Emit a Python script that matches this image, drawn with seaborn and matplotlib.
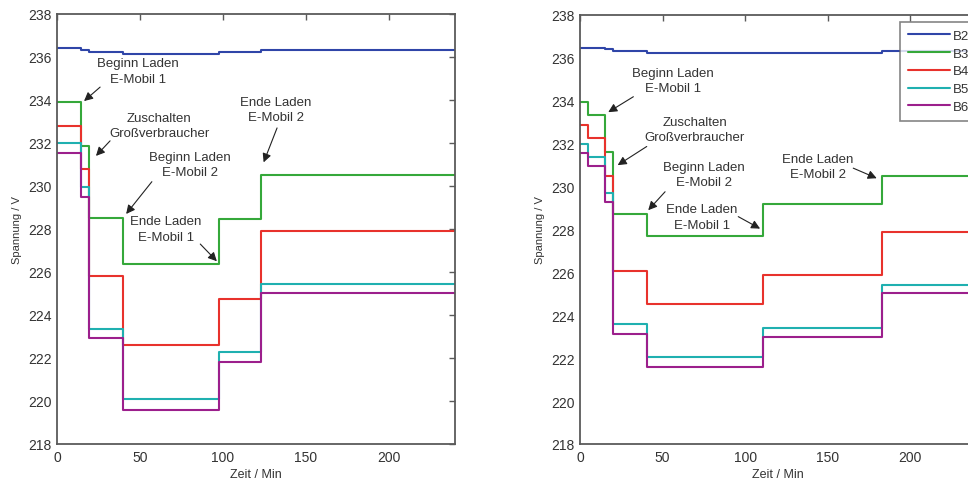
import numpy as np
import pandas as pd
import matplotlib
matplotlib.use("Agg")
import matplotlib.pyplot as plt
import seaborn as sns

# ---------------- data ----------------
series_names = ["B2", "B3", "B4", "B5", "B6"]

# left chart: step change times (min)
t_left = [0, 14.5, 19.5, 39.7, 97.8, 122.8, 240]
B2_left = [236.44, 236.33, 236.24, 236.16, 236.25, 236.31, 236.31]
B3_left = [233.92, 231.85, 228.50, 226.35, 228.45, 230.50, 230.50]
B4_left = [232.80, 230.80, 225.80, 222.60, 224.75, 227.90, 227.90]
B5_left = [232.00, 229.95, 223.37, 220.07, 222.27, 225.42, 225.42]
B6_left = [231.55, 229.50, 222.92, 219.60, 221.82, 225.02, 225.02]

# right chart
t_right = [0, 4.6, 15.1, 20.2, 40.5, 110.5, 182.6, 240]
B2_right = [236.46, 236.46, 236.40, 236.30, 236.24, 236.22, 236.31, 236.31]
B3_right = [233.95, 233.35, 231.60, 228.73, 227.72, 229.20, 230.50, 230.50]
B4_right = [232.85, 232.28, 230.50, 226.05, 224.55, 225.87, 227.87, 227.87]
B5_right = [232.00, 231.40, 229.68, 223.58, 222.05, 223.40, 225.42, 225.42]
B6_right = [231.58, 230.97, 229.28, 223.15, 221.60, 223.00, 225.03, 225.03]

x_ticks = [0, 50, 100, 150, 200]
y_ticks = [218, 220, 222, 224, 226, 228, 230, 232, 234, 236, 238]
x_label = "Zeit / Min"
y_label = "Spannung / V"

# annotations: (text, text position, arrow start, arrow tip)
ann_left = [
    ("Beginn Laden\nE-Mobil 1", (48.9, 235.35), (26.0, 234.6), (16.3, 233.95)),
    ("Zuschalten\nGroßverbraucher", (61.6, 232.8), (32.0, 232.1), (23.5, 231.4)),
    ("Beginn Laden\nE-Mobil 2", (80.3, 231.0), (57.2, 230.2), (41.7, 228.7)),
    ("Ende Laden\nE-Mobil 1", (65.5, 228.0), (86.4, 227.3), (96.4, 226.5)),
    ("Ende Laden\nE-Mobil 2", (132.0, 233.55), (132.7, 232.7), (124.6, 231.1)),
]
ann_right = [
    ("Beginn Laden\nE-Mobil 1", (56.5, 234.94), (32.3, 234.19), (17.1, 233.47)),
    ("Zuschalten\nGroßverbraucher", (69.6, 232.68), (40.4, 231.87), (22.8, 231.0)),
    ("Beginn Laden\nE-Mobil 2", (75.0, 230.55), (51.5, 229.76), (41.3, 228.9)),
    ("Ende Laden\nE-Mobil 1", (73.8, 228.58), (95.8, 228.6), (109.0, 228.04)),
    ("Ende Laden\nE-Mobil 2", (143.8, 230.94), (165.4, 230.86), (179.6, 230.39)),
]

palette = {"B2": "#2f45a8", "B3": "#35a83a", "B4": "#e8322c", "B5": "#1fb0b0", "B6": "#9c1f8c"}


def long_frame(t, series):
    rows = []
    for name, vals in zip(series_names, series):
        for ti, vi in zip(t, vals):
            rows.append({"Zeit": ti, "Spannung": vi, "Bus": name})
    return pd.DataFrame(rows)


df_left = long_frame(t_left, [B2_left, B3_left, B4_left, B5_left, B6_left])
df_right = long_frame(t_right, [B2_right, B3_right, B4_right, B5_right, B6_right])

# ---------------- style ----------------
sns.set_style("white")
plt.rcParams["font.family"] = ["Liberation Sans Narrow", "Liberation Sans", "DejaVu Sans"]

fig = plt.figure(figsize=(9.68, 4.81), dpi=100)
ax1 = fig.add_axes([57 / 968, 1 - 445 / 481, 398 / 968, 430 / 481])
ax2 = fig.add_axes([580 / 968, 1 - 445 / 481, 396.5 / 968, 429 / 481])

text_col = "#333333"
spine_col = "#5a5a5a"

for ax, df, anns in [(ax1, df_left, ann_left), (ax2, df_right, ann_right)]:
    sns.lineplot(data=df, x="Zeit", y="Spannung", hue="Bus", palette=palette,
                 estimator=None, sort=True, drawstyle="steps-post",
                 linewidth=1.5, legend=(ax is ax2), ax=ax)
    ax.set_xlim(0, 240)
    ax.set_ylim(218, 238)
    ax.set_xticks(x_ticks)
    ax.set_yticks(y_ticks)
    ax.set_xlabel(x_label, fontsize=9, color=text_col, labelpad=3)
    ax.set_ylabel(y_label, fontsize=8, color=text_col, labelpad=4)
    ax.tick_params(direction="in", length=4, width=1, colors=spine_col,
                   labelcolor=text_col, labelsize=10, top=True, right=True, pad=4)
    for sp in ax.spines.values():
        sp.set_visible(True)
        sp.set_color(spine_col)
        sp.set_linewidth(1.3)
    for txt, pos, start, tip in anns:
        ax.text(pos[0], pos[1], txt, ha="center", va="center", fontsize=9.5,
                color=text_col, linespacing=1.35)
        ax.annotate("", xy=tip, xytext=start,
                    arrowprops=dict(arrowstyle="-|>", color="#222222", lw=0.8,
                                    mutation_scale=13, shrinkA=0, shrinkB=0))

handles, labels = ax2.get_legend_handles_labels()
ax2.get_legend().remove()
leg = fig.legend(handles, labels, loc="upper left",
                 bbox_to_anchor=(900 / 968, 1 - 22.7 / 481),
                 bbox_transform=fig.transFigure, frameon=True, fancybox=False,
                 edgecolor="#666666", fontsize=9.5, handlelength=3.2,
                 handletextpad=0.2, labelspacing=0.42, borderpad=0.6,
                 borderaxespad=0)
leg.get_frame().set_linewidth(1.2)
for t in leg.get_texts():
    t.set_color(text_col)

fig.savefig("out.png", dpi=100, facecolor="white")
